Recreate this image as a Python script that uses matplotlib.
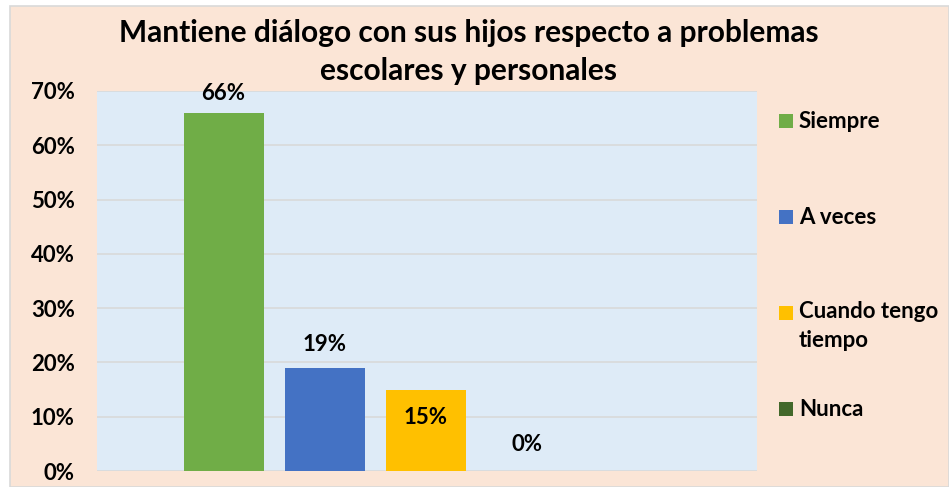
import matplotlib
matplotlib.use("Agg")
import matplotlib.pyplot as plt
from matplotlib.patches import Rectangle

categories = ["Siempre", "A veces", "Cuando tengo\ntiempo", "Nunca"]
values = [0.66, 0.19, 0.15, 0.0]
labels = ["66%", "19%", "15%", "0%"]
colors = ["#70AD47", "#4472C4", "#FFC000", "#43682B"]
yticks = [0, 0.1, 0.2, 0.3, 0.4, 0.5, 0.6, 0.7]
yticklabels = ["0%", "10%", "20%", "30%", "40%", "50%", "60%", "70%"]
title = "Mantiene diálogo con sus hijos respecto a problemas\nescolares y personales"

FONT = "Lato"
FS = 16
W, H = 949, 487
fig = plt.figure(figsize=(W / 100, H / 100), dpi=100, facecolor="white")

# chart area background
fig.patches.append(Rectangle((10 / W, 0), 1 - 10 / W, 1 - 6 / H, transform=fig.transFigure,
                             facecolor="#FBE5D6", edgecolor="#D9D9D9", linewidth=1.2, zorder=-5))

ax = fig.add_axes([97 / W, 1 - 471 / H, (757 - 97) / W, (471 - 91) / H])
ax.set_facecolor("#DEEBF7")
x = list(range(len(values)))
ax.bar(x, values, width=0.79, color=colors, zorder=3)
ax.set_xlim(-1.25, 5.27)
ax.set_ylim(0, 0.7)
ax.set_yticks(yticks)
ax.set_yticklabels(yticklabels, fontfamily=FONT, fontweight="bold", fontsize=FS)
ax.set_xticks([])
ax.tick_params(axis="y", length=0, pad=16)
ax.grid(axis="y", color="#D9D9D9", linewidth=1.2, zorder=1)
for s in ax.spines.values():
    s.set_visible(False)

offsets = [14, 17, -20, 19]
for xi, v, lab, off in zip(x, values, labels, offsets):
    ax.annotate(lab, (xi, v), xytext=(0, off), textcoords="offset points",
                ha="center", va="center", fontfamily=FONT, fontweight="bold", fontsize=FS,
                zorder=4)

fig.text(469 / W, 1 - 52 / H, title, ha="center", va="center", fontfamily=FONT,
         fontweight="bold", fontsize=21.5, linespacing=1.42)

# legend
leg_y = [121, 217, 313, 409]
for cat, col, yy in zip(categories, colors, leg_y):
    fig.patches.append(Rectangle((779 / W, 1 - (yy + 7) / H), 14 / W, 14 / H,
                                 transform=fig.transFigure, facecolor=col, edgecolor="none"))
    if "\n" in cat:
        fig.text(799 / W, 1 - (yy - 12) / H, cat, ha="left", va="top", fontfamily=FONT,
                 fontweight="bold", fontsize=FS, linespacing=1.45)
    else:
        fig.text(799 / W, 1 - yy / H, cat, ha="left", va="center", fontfamily=FONT,
                 fontweight="bold", fontsize=FS)

fig.savefig("out.png", dpi=100, facecolor="white")
